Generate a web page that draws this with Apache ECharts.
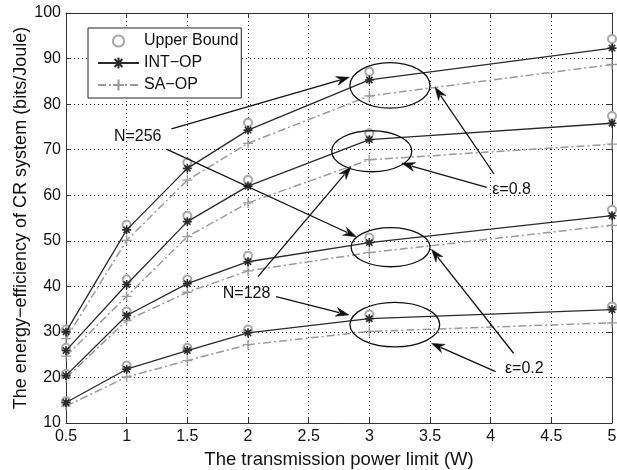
<!DOCTYPE html>
<html>
<head>
<meta charset="utf-8">
<script src="https://cdn.jsdelivr.net/npm/echarts@6/dist/echarts.min.js"></script>
<style>
  html, body { margin: 0; padding: 0; background: #fff; }
  #chart { width: 617px; height: 470px; }
</style>
</head>
<body>
<div id="chart"></div>
<script>
// Transmission power limit (W) at which each scheme was evaluated
const powerLimits = [0.5, 1, 1.5, 2, 3, 5];

// Energy efficiency (bits/Joule), N=256, eps=0.8
const ubN256e08  = [30.5, 53.5, 67.2, 75.9, 87.1, 94.3];
const intN256e08 = [30.0, 52.4, 65.9, 74.3, 85.3, 92.3];
const saN256e08  = [28.5, 50.1, 63.3, 71.4, 81.8, 88.7];

// N=128, eps=0.8
const ubN128e08  = [26.5, 41.5, 55.5, 63.4, 73.6, 77.4];
const intN128e08 = [25.9, 40.4, 54.2, 62.0, 72.2, 75.8];
const saN128e08  = [24.7, 37.8, 50.9, 58.3, 67.8, 71.2];

// N=256, eps=0.2
const ubN256e02  = [20.8, 34.5, 41.5, 46.7, 50.7, 56.8];
const intN256e02 = [20.4, 33.6, 40.6, 45.4, 49.6, 55.5];
const saN256e02  = [19.9, 32.5, 38.7, 43.4, 47.4, 53.4];

// N=128, eps=0.2
const ubN128e02  = [14.8, 22.6, 26.5, 30.5, 33.8, 35.6];
const intN128e02 = [14.5, 21.8, 25.9, 29.8, 32.9, 34.9];
const saN128e02  = [13.7, 20.1, 23.7, 27.2, 30.1, 32.0];

// Axis ticks
const xTicks = [0.5, 1, 1.5, 2, 2.5, 3, 3.5, 4, 4.5, 5];
const yTicks = [10, 20, 30, 40, 50, 60, 70, 80, 90, 100];

// Group ellipses: [centre x, centre y, half width (W), half height (bits/Joule)]
const groupEllipses = [
  [3.17, 84.1, 0.33, 5.0],
  [3.02, 69.65, 0.33, 4.5],
  [3.175, 48.6, 0.325, 4.3],
  [3.21, 31.6, 0.37, 4.9]
];

// Annotation arrows: [from x, from y, to x, to y]
const annotationArrows = [
  [1.369, 74.54, 2.835, 85.89],
  [1.332, 70.08, 2.893, 50.90],
  [2.082, 42.12, 2.849, 66.26],
  [2.231, 37.73, 2.832, 33.71],
  [4.028, 64.66, 3.541, 83.69],
  [3.968, 61.74, 3.269, 67.01],
  [4.189, 25.31, 3.512, 48.14],
  [4.041, 21.27, 3.512, 27.50]
];

// Annotation labels: [text, x, y]
const annotationLabels = [
  ['N=256', 1.091, 72.78],
  ['N=128', 1.988, 38.48],
  ['ε=0.8', 4.172, 61.26],
  ['ε=0.2', 4.277, 22.01]
];

const FONT = "'Liberation Sans', Arial, sans-serif";
const ubColor = '#a8a8a8';
const intColor = '#2a2a2a';
const saColor = '#9a9a9a';

const asteriskPath = 'path://M5,0L5,10M0,5L10,5M1.5,1.5L8.5,8.5M8.5,1.5L1.5,8.5';
const plusPath = 'path://M5,0L5,10M0,5L10,5';

const pair = ys => powerLimits.map((x, i) => [x, ys[i]]);

function ubSeries(ys) {
  return {
    name: 'Upper Bound', type: 'line', data: pair(ys),
    symbol: 'emptyCircle', symbolSize: 8, showAllSymbol: true,
    lineStyle: { width: 0, opacity: 0 },
    itemStyle: { color: ubColor, borderColor: ubColor, borderWidth: 1 },
    z: 3, animation: false
  };
}
function intSeries(ys) {
  return {
    name: 'INT−OP', type: 'line', data: pair(ys),
    symbol: asteriskPath, symbolSize: 9, showAllSymbol: true,
    lineStyle: { color: intColor, width: 1.3 },
    itemStyle: { color: intColor, borderColor: intColor, borderWidth: 1.6 },
    z: 5, animation: false
  };
}
function saSeries(ys) {
  return {
    name: 'SA−OP', type: 'line', data: pair(ys),
    symbol: plusPath, symbolSize: 10, showAllSymbol: true,
    lineStyle: { color: saColor, width: 1.5, type: [8, 3, 2, 3] },
    itemStyle: { color: saColor, borderColor: saColor, borderWidth: 1.3 },
    z: 4, animation: false
  };
}

const chart = echarts.init(document.getElementById('chart'), null, { renderer: 'canvas' });

const frame = { show: true, lineStyle: { color: '#333', width: 1 } };
const innerTick = { show: true, inside: true, length: 5, lineStyle: { color: '#333' } };
const dotted = { show: true, lineStyle: { color: '#222', width: 1, type: [1, 3] } };

chart.setOption({
  animation: false,
  backgroundColor: '#fff',
  grid: { left: 66, right: 5, top: 13, bottom: 47, containLabel: false, outerBoundsMode: 'none' },
  legend: {
    data: ['Upper Bound', 'INT−OP', 'SA−OP'],
    orient: 'vertical', left: 88, top: 28,
    padding: [5, 3, 5, 9], itemGap: 6, itemWidth: 41, itemHeight: 14,
    borderColor: '#222', borderWidth: 1, backgroundColor: '#fff',
    textStyle: { fontFamily: FONT, fontSize: 16, color: '#111' },
    selectedMode: false
  },
  xAxis: [{
    type: 'value', min: 0.5, max: 5, interval: 0.5, position: 'bottom',
    axisLine: frame, axisTick: innerTick, splitLine: dotted,
    axisLabel: { fontFamily: FONT, fontSize: 16, color: '#111', margin: 6,
      showMinLabel: true, showMaxLabel: true,
      formatter: v => (xTicks.indexOf(v) >= 0 ? String(v) : '') },
    name: 'The transmission power limit (W)', nameLocation: 'middle', nameGap: 27,
    nameTextStyle: { fontFamily: FONT, fontSize: 18.5, color: '#111' }
  }, {
    type: 'value', min: 0.5, max: 5, interval: 0.5, position: 'top',
    axisLine: frame, axisTick: innerTick, splitLine: { show: false },
    axisLabel: { show: false }
  }],
  yAxis: [{
    type: 'value', min: 10, max: 100, interval: 10, position: 'left',
    axisLine: frame, axisTick: innerTick, splitLine: dotted,
    axisLabel: { fontFamily: FONT, fontSize: 16, color: '#111', margin: 5,
      showMinLabel: true, showMaxLabel: true,
      formatter: v => (yTicks.indexOf(v) >= 0 ? String(v) : '') },
    name: 'The energy−efficiency of CR system (bits/Joule)', nameLocation: 'middle', nameGap: 36,
    nameMoveOverlap: false,
    nameTextStyle: { fontFamily: FONT, fontSize: 18, color: '#111' }
  }, {
    type: 'value', min: 10, max: 100, interval: 10, position: 'right',
    axisLine: frame, axisTick: innerTick, splitLine: { show: false },
    axisLabel: { show: false }
  }],
  series: [
    ubSeries(ubN256e08), intSeries(intN256e08), saSeries(saN256e08),
    ubSeries(ubN128e08), intSeries(intN128e08), saSeries(saN128e08),
    ubSeries(ubN256e02), intSeries(intN256e02), saSeries(saN256e02),
    ubSeries(ubN128e02), intSeries(intN128e02), saSeries(saN128e02)
  ]
});

// Annotation shapes placed in data coordinates through the axes
const toPx = (x, y) => chart.convertToPixel({ xAxisIndex: 0, yAxisIndex: 0 }, [x, y]);
const graphics = [];

groupEllipses.forEach(([cx, cy, hw, hh]) => {
  const c = toPx(cx, cy);
  const e = toPx(cx + hw, cy + hh);
  graphics.push({
    type: 'ellipse', z: 10,
    shape: { cx: c[0], cy: c[1], rx: Math.abs(e[0] - c[0]), ry: Math.abs(e[1] - c[1]) },
    style: { fill: null, stroke: '#111', lineWidth: 1.3 }
  });
});

annotationArrows.forEach(([x0, y0, x1, y1]) => {
  const a = toPx(x0, y0), b = toPx(x1, y1);
  const dx = b[0] - a[0], dy = b[1] - a[1];
  const len = Math.hypot(dx, dy);
  const ux = dx / len, uy = dy / len;
  const L = 13, W = 4.5;
  const base = [b[0] - ux * L, b[1] - uy * L];
  graphics.push({
    type: 'line', z: 10,
    shape: { x1: a[0], y1: a[1], x2: base[0] + ux * 3, y2: base[1] + uy * 3 },
    style: { stroke: '#111', lineWidth: 1.3 }
  });
  graphics.push({
    type: 'polygon', z: 10,
    shape: { points: [b, [base[0] - uy * W, base[1] + ux * W], [b[0] - ux * (L - 4), b[1] - uy * (L - 4)], [base[0] + uy * W, base[1] - ux * W]] },
    style: { fill: '#111', stroke: '#111', lineWidth: 0.5 }
  });
});

annotationLabels.forEach(([text, x, y]) => {
  const p = toPx(x, y);
  graphics.push({
    type: 'text', z: 11, x: p[0], y: p[1],
    style: { text: text, fill: '#111', font: '16px ' + FONT, align: 'center', verticalAlign: 'middle' }
  });
});

chart.setOption({ graphic: graphics });
</script>
</body>
</html>
